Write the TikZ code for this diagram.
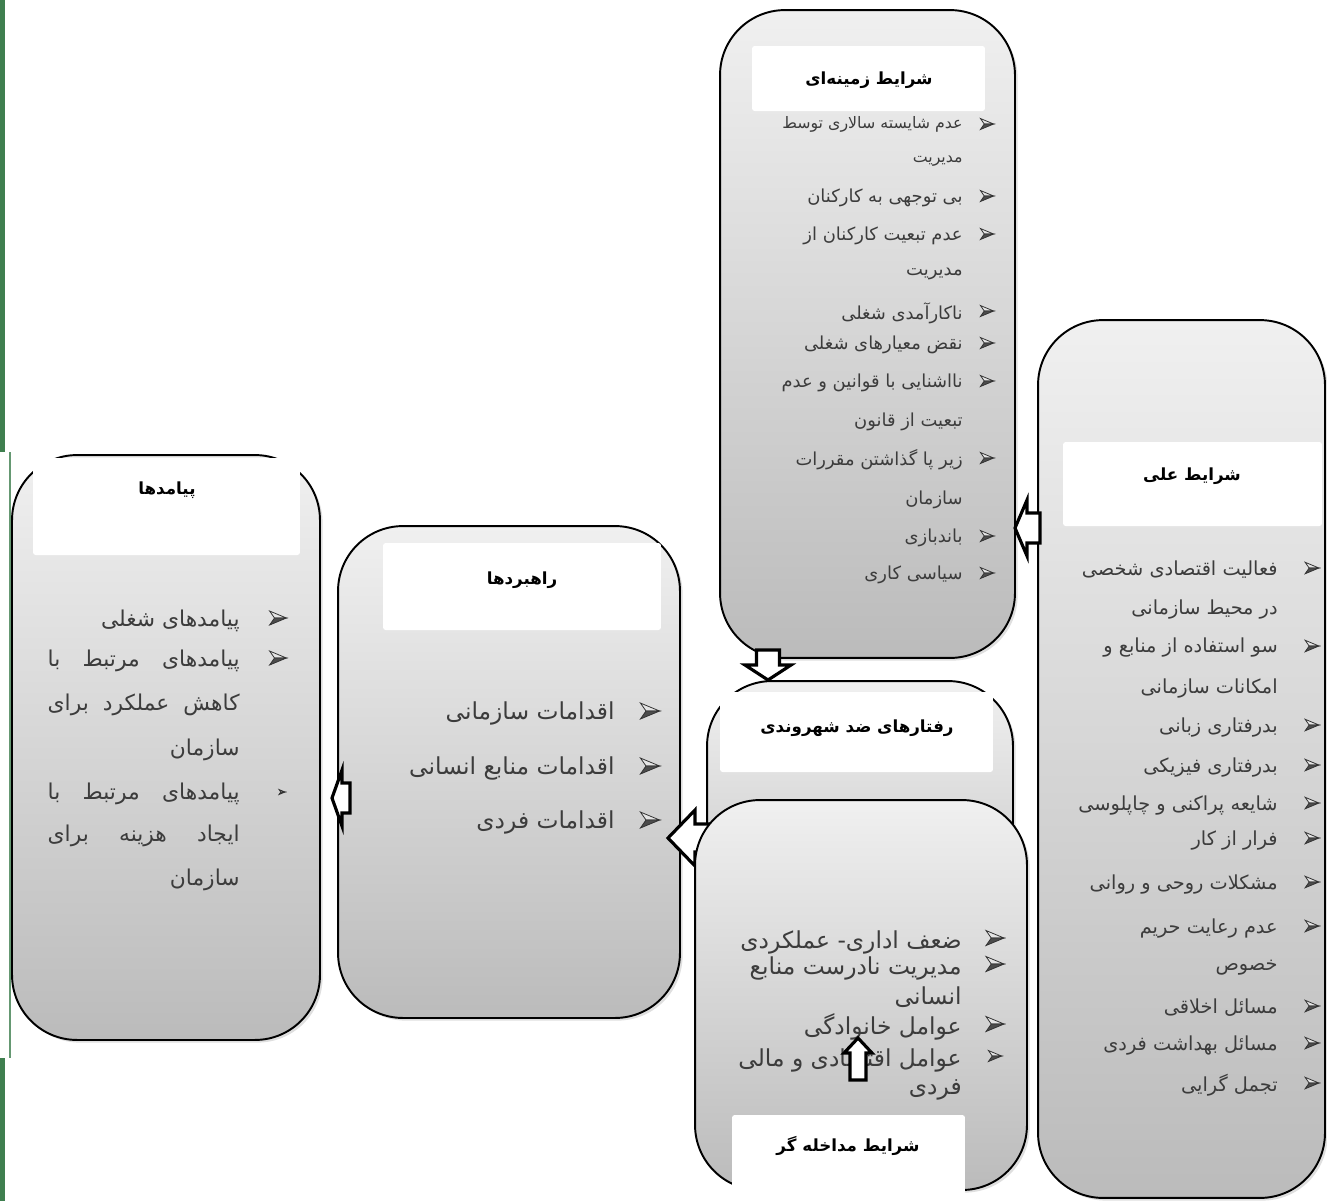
\documentclass[tikz,border=0pt]{standalone}
\usepackage{fontspec}
\newfontfamily\fafont[Script=Arabic]{DejaVu Sans}
\TeXXeTstate=1
\usetikzlibrary{shadows}
\definecolor{boxtop}{HTML}{F0F0F0}
\definecolor{boxbot}{HTML}{BBBBBB}
\definecolor{itemgray}{HTML}{3C3C3C}
\definecolor{bargreen}{HTML}{3F7F4F}
\tikzset{
  % جعبه‌ها
  box/.style={draw=black,line width=1.1pt,rounded corners=1.3cm,top color=boxtop,
              bottom color=boxbot,inner sep=0pt,
              drop shadow={opacity=0.25,shadow xshift=1.5pt,shadow yshift=-1.5pt}},
  ttl/.style={fill=white,rounded corners=1.5pt,inner sep=0pt},
  hd/.style={inner sep=0pt,font=\fafont\bfseries\fontsize{9.5}{11}\selectfont},
  itm/.style={anchor=east,inner sep=0pt,text=itemgray,font=\fafont\fontsize{10.2}{12}\selectfont},
  mid/.style={font=\fafont\fontsize{11}{13}\selectfont},
  big/.style={font=\fafont\fontsize{13.3}{15}\selectfont},
  cons/.style={font=\fafont\fontsize{12.4}{14}\selectfont},
  blkln/.style={draw=black,fill=white,line width=1.8pt,line join=miter},
}
% پیکان نشانه
\newcommand\bul[3]{%
  \begin{scope}[shift={(#1,#2)},scale=#3]
    \filldraw[draw=black!80,fill=black!10,line width=0.45pt] (6,0) -- (-6,-5) -- (-2.5,0) -- cycle;
    \filldraw[draw=black!80,fill=black!70,line width=0.45pt] (6,0) -- (-2.5,0) -- (-6,5) -- cycle;
  \end{scope}}
% پیکان پهن
\newcommand\blkarr[7]{%
  \draw[blkln,shift={(#1,#2)},rotate=#3] (0,0) -- (#5,-#6) -- (#5,-#7) -- (#4,-#7)
    -- (#4,#7) -- (#5,#7) -- (#5,#6) -- cycle;}

\begin{document}
\begin{tikzpicture}[x=0.02cm,y=-0.02cm]
  \useasboundingbox (0,0) rectangle (1327,1201);
  \draw[bargreen,line width=3pt] (2.5,0) -- (2.5,452);
  \draw[bargreen!80,line width=1.7pt] (10,452) -- (10,1058);
  \draw[bargreen,line width=3pt] (2.5,1058) -- (2.5,1201);

  % پیامدها
  \node[box,minimum width=6.16cm,minimum height=11.7cm] (cons) at (166,747.5) {};
  \node[ttl,minimum width=5.34cm,minimum height=1.94cm] (consT) at (166.5,506.5) {};
  \node[hd] (consH) at (167,490) {\beginR پیامدها\endR};
  \node[itm,cons] (cons1) at (240,621) {\beginR پیامدهای شغلی\endR};
  \node[itm,cons] (cons2) at (240,661) {\hbox to 3.84cm{\beginR پیامدهای\hfill مرتبط\hfill با\endR}};
  \node[itm,cons] (cons3) at (240,705) {\hbox to 3.84cm{\beginR کاهش\hfill عملکرد\hfill برای\endR}};
  \node[itm,cons] (cons4) at (240,750) {\beginR سازمان\endR};
  \node[itm,cons] (cons5) at (240,794) {\hbox to 3.84cm{\beginR پیامدهای\hfill مرتبط\hfill با\endR}};
  \node[itm,cons] (cons6) at (240,836) {\hbox to 3.84cm{\beginR ایجاد\hfill هزینه\hfill برای\endR}};
  \node[itm,cons] (cons7) at (240,880) {\beginR سازمان\endR};
  \bul{278}{618}{1.4}
  \bul{278}{658}{1.4}
  \bul{282}{792}{0.5}

  % راهبردها
  \node[box,minimum width=6.84cm,minimum height=9.84cm] (strat) at (509,772) {};
  \node[ttl,minimum width=5.56cm,minimum height=1.74cm] (stratT) at (522,586.5) {};
  \node[hd] (stratH) at (522,580) {\beginR راهبردها\endR};
  \foreach \y/\t [count=\i] in {713/اقدامات سازمانی,768/اقدامات منابع انسانی,822/اقدامات فردی}{
    \node[itm,big] (strat\i) at (615,\y) {\beginR \t\endR};
    \bul{650}{\y-2}{1.6}
  }
  \blkarr{332}{798}{0}{18}{10}{28}{15}

  % شرایط زمینه‌ای
  \node[box,minimum width=5.9cm,minimum height=12.96cm] (ctx) at (867.5,334) {};
  \node[ttl,minimum width=4.66cm,minimum height=1.3cm] (ctxT) at (868.5,78.5) {};
  \node[hd] (ctxH) at (869,80) {\beginR شرایط زمینه‌ای\endR};
  \node[itm,font=\fafont\fontsize{9}{11}\selectfont] (ctx1) at (963,124) {\beginR عدم شایسته سالاری توسط\endR};
  \node[itm,font=\fafont\fontsize{9}{11}\selectfont] (ctx2) at (963,161) {\beginR مدیریت\endR};
  \foreach \y/\t [count=\i from 3] in {198/بی توجهی به کارکنان,236/عدم تبعیت کارکنان از,274/مدیریت,
      313/ناکارآمدی شغلی,345/نقض معیارهای شغلی,383/نااشنایی با قوانین و عدم,422/تبعیت از قانون,
      460/زیر پا گذاشتن مقررات,500/سازمان,538/باندبازی,575/سیاسی کاری}{
    \node[itm] (ctx\i) at (963,\y) {\beginR \t\endR};
  }
  \foreach \y in {124,196,234,311,343,381,458,536,573}{
    \bul{987}{\y}{1.1}
  }

  % شرایط علی
  \node[box,minimum width=5.74cm,minimum height=17.56cm] (cau) at (1181.5,759) {};
  \node[ttl,minimum width=5.18cm,minimum height=1.68cm] (cauT) at (1192.5,484) {};
  \node[hd] (cauH) at (1192,476) {\beginR شرایط علی\endR};
  \foreach \y/\t [count=\i] in {570/فعالیت اقتصادی شخصی,610/در محیط سازمانی,648/سو استفاده از منابع و,
      688/امکانات سازمانی,727/بدرفتاری زبانی,767/بدرفتاری فیزیکی,805/شایعه پراکنی و چاپلوسی,
      840/فرار از کار,884/مشکلات روحی و روانی,928/عدم رعایت حریم,968/خصوص,1008/مسائل اخلاقی,
      1045/مسائل بهداشت فردی,1085/تجمل گرایی}{
    \node[itm,mid] (cau\i) at (1278,\y) {\beginR \t\endR};
  }
  \foreach \y in {568,646,725,765,803,838,882,926,1006,1043,1083}{
    \bul{1312}{\y}{1.15}
  }
  \blkarr{1015}{528}{0}{25}{12}{28}{15}

  % رفتارهای ضد شهروندی
  \node[box,minimum width=6.12cm,minimum height=6.38cm] (core) at (860,840.5) {};
  \node[ttl,minimum width=5.46cm,minimum height=1.6cm] (coreT) at (856.5,732) {};
  \node[hd] (coreH) at (857,728) {\beginR رفتارهای ضد شهروندی\endR};
  \blkarr{768}{680}{90}{30}{15}{23}{11.5}
  \blkarr{668}{838}{0}{45}{27}{28}{14}

  % شرایط مداخله گر
  \node[box,minimum width=6.64cm,minimum height=7.8cm] (inter) at (861,995) {};
  \node[ttl,minimum width=4.66cm,minimum height=1.6cm] (interT) at (848.5,1155) {};
  \node[hd] (interH) at (848,1146) {\beginR شرایط مداخله گر\endR};
  \foreach \y/\t [count=\i] in {942/ضعف اداری- عملکردی,968/مدیریت نادرست منابع,997/انسانی,
      1027/عوامل خانوادگی,1060/عوامل اقتصادی و مالی,1090/فردی}{
    \node[itm,big] (inter\i) at (962,\y) {\beginR \t\endR};
  }
  \foreach \y/\s in {938/1.5,964/1.5,1024/1.5,1056/1.1}{
    \bul{995}{\y}{\s}
  }
  \blkarr{858}{1038}{-90}{42}{15}{14}{8}
\end{tikzpicture}
\end{document}
